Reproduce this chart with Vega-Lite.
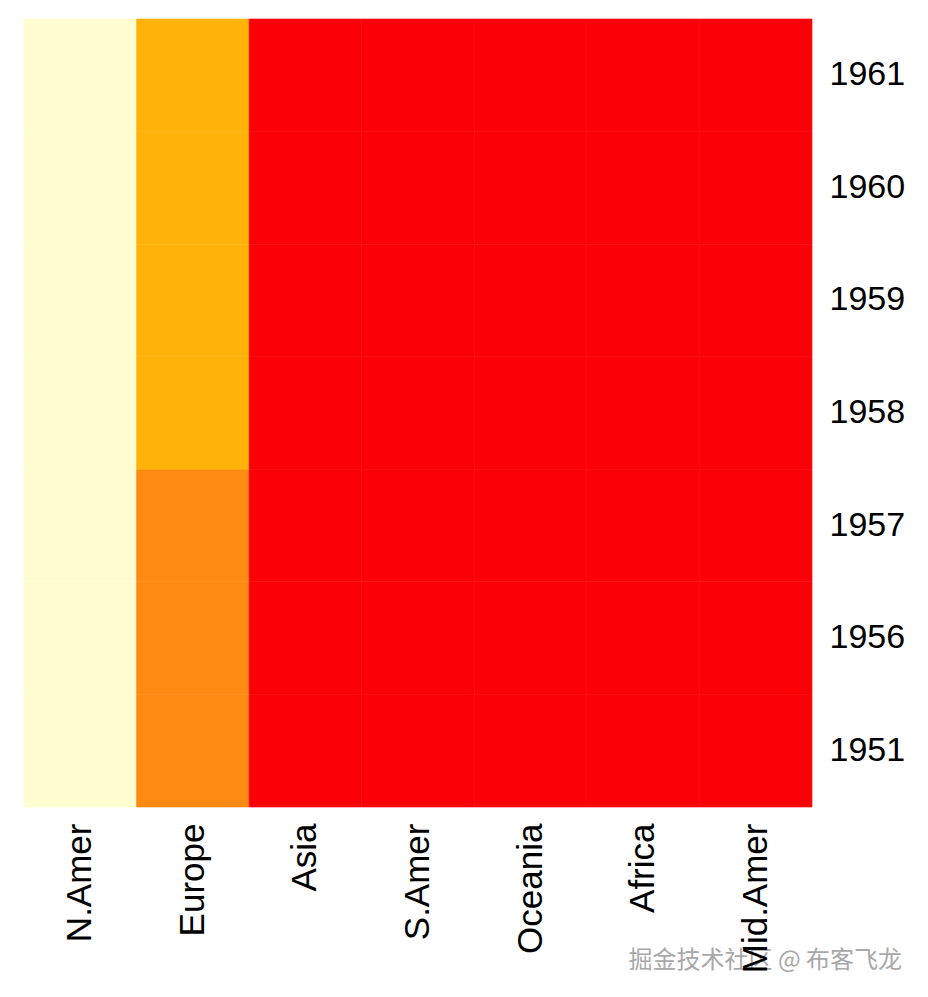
{
  "$schema": "https://vega.github.io/schema/vega-lite/v6.json",
  "width": 788,
  "height": 788,
  "autosize": {"type": "none"},
  "padding": {"left": 24, "top": 19, "right": 116, "bottom": 190},
  "background": "white",
  "config": {
    "view": {"stroke": null},
    "font": "Liberation Sans"
  },
  "title": {
    "text": "掘金技术社区 @ 布客飞龙",
    "orient": "bottom",
    "anchor": "end",
    "frame": "group",
    "font": "Noto Sans CJK SC",
    "fontSize": 24,
    "fontWeight": "normal",
    "color": "#a8a8a8",
    "offset": -24,
    "dx": 90
  },
  "data": {
    "values": [
      {"year": "1951", "region": "N.Amer", "phones": 45939},
      {"year": "1951", "region": "Europe", "phones": 21574},
      {"year": "1951", "region": "Asia", "phones": 2876},
      {"year": "1951", "region": "S.Amer", "phones": 1815},
      {"year": "1951", "region": "Oceania", "phones": 1646},
      {"year": "1951", "region": "Africa", "phones": 89},
      {"year": "1951", "region": "Mid.Amer", "phones": 555},
      {"year": "1956", "region": "N.Amer", "phones": 60423},
      {"year": "1956", "region": "Europe", "phones": 29990},
      {"year": "1956", "region": "Asia", "phones": 4708},
      {"year": "1956", "region": "S.Amer", "phones": 2568},
      {"year": "1956", "region": "Oceania", "phones": 2366},
      {"year": "1956", "region": "Africa", "phones": 1411},
      {"year": "1956", "region": "Mid.Amer", "phones": 733},
      {"year": "1957", "region": "N.Amer", "phones": 64721},
      {"year": "1957", "region": "Europe", "phones": 32510},
      {"year": "1957", "region": "Asia", "phones": 5230},
      {"year": "1957", "region": "S.Amer", "phones": 2695},
      {"year": "1957", "region": "Oceania", "phones": 2526},
      {"year": "1957", "region": "Africa", "phones": 1546},
      {"year": "1957", "region": "Mid.Amer", "phones": 773},
      {"year": "1958", "region": "N.Amer", "phones": 68484},
      {"year": "1958", "region": "Europe", "phones": 35218},
      {"year": "1958", "region": "Asia", "phones": 6662},
      {"year": "1958", "region": "S.Amer", "phones": 2845},
      {"year": "1958", "region": "Oceania", "phones": 2691},
      {"year": "1958", "region": "Africa", "phones": 1663},
      {"year": "1958", "region": "Mid.Amer", "phones": 836},
      {"year": "1959", "region": "N.Amer", "phones": 71799},
      {"year": "1959", "region": "Europe", "phones": 37598},
      {"year": "1959", "region": "Asia", "phones": 6856},
      {"year": "1959", "region": "S.Amer", "phones": 3000},
      {"year": "1959", "region": "Oceania", "phones": 2868},
      {"year": "1959", "region": "Africa", "phones": 1769},
      {"year": "1959", "region": "Mid.Amer", "phones": 911},
      {"year": "1960", "region": "N.Amer", "phones": 76036},
      {"year": "1960", "region": "Europe", "phones": 40341},
      {"year": "1960", "region": "Asia", "phones": 8220},
      {"year": "1960", "region": "S.Amer", "phones": 3145},
      {"year": "1960", "region": "Oceania", "phones": 3054},
      {"year": "1960", "region": "Africa", "phones": 1905},
      {"year": "1960", "region": "Mid.Amer", "phones": 1008},
      {"year": "1961", "region": "N.Amer", "phones": 79831},
      {"year": "1961", "region": "Europe", "phones": 43173},
      {"year": "1961", "region": "Asia", "phones": 9053},
      {"year": "1961", "region": "S.Amer", "phones": 3338},
      {"year": "1961", "region": "Oceania", "phones": 3224},
      {"year": "1961", "region": "Africa", "phones": 2005},
      {"year": "1961", "region": "Mid.Amer", "phones": 1076}
    ]
  },
  "mark": {"type": "rect", "strokeWidth": 0.6},
  "encoding": {
    "x": {
      "field": "region",
      "type": "nominal",
      "sort": ["N.Amer", "Europe", "Asia", "S.Amer", "Oceania", "Africa", "Mid.Amer"],
      "scale": {"paddingInner": 0, "paddingOuter": 0},
      "axis": {
        "title": null,
        "orient": "bottom",
        "domain": false,
        "ticks": false,
        "labelAngle": 270,
        "labelAlign": "right",
        "labelBaseline": "middle",
        "labelPadding": 16,
        "labelFontSize": 35,
        "labelColor": "black",
        "labelFont": "Liberation Sans",
        "labelOverlap": false,
        "labelBound": false
      }
    },
    "y": {
      "field": "year",
      "type": "ordinal",
      "sort": "descending",
      "scale": {"paddingInner": 0, "paddingOuter": 0},
      "axis": {
        "title": null,
        "orient": "right",
        "domain": false,
        "ticks": false,
        "labelPadding": 17,
        "labelFontSize": 34,
        "labelDy": 2,
        "labelColor": "black",
        "labelFont": "Liberation Sans",
        "labelOverlap": false
      }
    },
    "color": {
      "field": "phones",
      "type": "quantitative",
      "scale": {
        "type": "threshold",
        "domain": [15000, 34000, 45000],
        "range": ["#FB0007", "#FD8A12", "#FFB20A", "#FFFDD0"]
      },
      "legend": null
    },
    "stroke": {
      "field": "phones",
      "type": "quantitative",
      "scale": {
        "type": "threshold",
        "domain": [15000, 34000, 45000],
        "range": ["#FB0007", "#FD8A12", "#FFB20A", "#FFFDD0"]
      },
      "legend": null
    }
  }
}
